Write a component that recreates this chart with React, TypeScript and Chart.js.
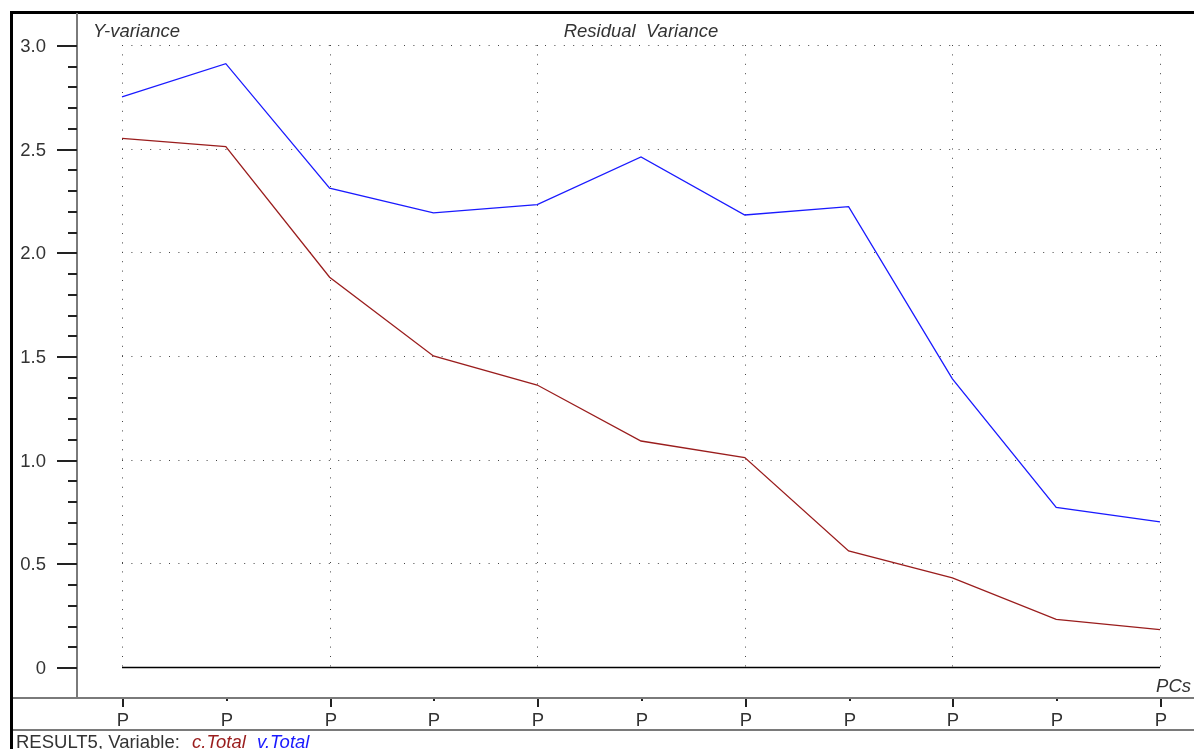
import React, { useEffect, useRef } from "react";
import { Chart, registerables } from "chart.js";

Chart.register(...registerables);

const categories = ["P", "P", "P", "P", "P", "P", "P", "P", "P", "P", "P"];
const vTotal = [2.75, 2.91, 2.31, 2.19, 2.23, 2.46, 2.18, 2.22, 1.39, 0.77, 0.7];
const cTotal = [2.55, 2.51, 1.88, 1.5, 1.36, 1.09, 1.01, 0.56, 0.43, 0.23, 0.18];
const yMajorTicks = [0, 0.5, 1.0, 1.5, 2.0, 2.5, 3.0];
const yMajorLabels = ["0", "0.5", "1.0", "1.5", "2.0", "2.5", "3.0"];
const yMinorTicks = [0.1, 0.2, 0.3, 0.4, 0.6, 0.7, 0.8, 0.9, 1.1, 1.2, 1.3, 1.4, 1.6, 1.7, 1.8, 1.9, 2.1, 2.2, 2.3, 2.4, 2.6, 2.7, 2.8, 2.9];

const FONT = "Liberation Sans, Arial, sans-serif";
const FS = "18.5px ";
const RED = "#9a1d1d";
const BLUE = "#1a1aff";

const decor = {
  id: "decor",
  beforeDatasetsDraw(chart: any) {
    const ctx = chart.ctx as CanvasRenderingContext2D;
    const xs = chart.scales.x;
    const ys = chart.scales.y;
    const left = xs.getPixelForValue(0);
    const right = xs.getPixelForValue(categories.length - 1);
    const top = ys.getPixelForValue(3.0);
    const zero = ys.getPixelForValue(0);
    ctx.save();
    ctx.fillStyle = "#ffffff";
    ctx.fillRect(0, 0, chart.width, chart.height);

    // dotted horizontal grid
    ctx.strokeStyle = "#444";
    ctx.lineWidth = 1;
    ctx.setLineDash([1, 8.4]);
    for (const v of yMajorTicks) {
      if (v === 0) continue;
      const y = Math.round(ys.getPixelForValue(v)) + 0.5;
      ctx.beginPath();
      ctx.moveTo(left, y);
      ctx.lineTo(right + 1, y);
      ctx.stroke();
    }
    // dotted vertical grid (every other category)
    for (let i = 0; i < categories.length; i += 2) {
      const x = Math.round(xs.getPixelForValue(i)) + 0.5;
      ctx.beginPath();
      ctx.moveTo(x, top);
      ctx.lineTo(x, zero);
      ctx.stroke();
    }
    ctx.setLineDash([]);

    // zero line
    ctx.strokeStyle = "#000";
    ctx.lineWidth = 1.5;
    ctx.beginPath();
    ctx.moveTo(left, Math.round(zero) + 0.5);
    ctx.lineTo(right, Math.round(zero) + 0.5);
    ctx.stroke();

    // frame
    ctx.fillStyle = "#000";
    ctx.fillRect(10, 11, chart.width - 10, 3);
    ctx.fillRect(10, 11, 3, chart.height - 11);

    // y axis line
    const axisX = 77;
    ctx.fillStyle = "#7a7a7a";
    ctx.fillRect(axisX - 1, 13, 2, 686);
    // x axis bands
    ctx.fillRect(13, 697, chart.width - 13, 2);
    ctx.fillRect(13, 729, chart.width - 13, 2);

    // y ticks
    ctx.fillStyle = "#222";
    for (const v of yMajorTicks) {
      const y = Math.round(ys.getPixelForValue(v));
      ctx.fillRect(57, y, 20, 2);
    }
    for (const v of yMinorTicks) {
      const y = Math.round(ys.getPixelForValue(v));
      ctx.fillRect(68, y, 9, 2);
    }
    ctx.font = FS + FONT;
    ctx.textAlign = "right";
    ctx.textBaseline = "alphabetic";
    ctx.fillStyle = "#333";
    yMajorTicks.forEach((v, i) => {
      const y = ys.getPixelForValue(v);
      ctx.fillText(yMajorLabels[i], 46, y + 7);
    });

    // x ticks and labels
    ctx.textAlign = "center";
    categories.forEach((c, i) => {
      const x = Math.round(xs.getPixelForValue(i));
      ctx.fillStyle = "#222";
      if (i % 2 === 0) ctx.fillRect(x, 699, 2, 8);
      else ctx.fillRect(x, 699, 2, 2);
      ctx.fillStyle = "#333";
      ctx.fillText(c, x + 1, 726);
    });

    // titles
    ctx.font = "italic " + FS + FONT;
    ctx.fillStyle = "#333";
    ctx.textAlign = "left";
    ctx.fillText("Y-variance", 93, 37);
    ctx.textAlign = "center";
    ctx.fillText("Residual  Variance", (left + right) / 2, 37);
    ctx.textAlign = "right";
    ctx.fillText("PCs", 1191, 692);

    // legend line
    ctx.textAlign = "left";
    ctx.font = FS + FONT;
    ctx.fillStyle = "#333";
    ctx.fillText("RESULT5, Variable:", 16, 748);
    ctx.font = "italic " + FS + FONT;
    ctx.fillStyle = RED;
    ctx.fillText("c.Total", 192, 748);
    ctx.fillStyle = BLUE;
    ctx.fillText("v.Total", 257, 748);
    ctx.restore();
  },
};

export default function App() {
  const ref = useRef<HTMLCanvasElement>(null);
  useEffect(() => {
    document.body.style.margin = "0";
    const chart = new Chart(ref.current!, {
      type: "line",
      data: {
        labels: categories,
        datasets: [
          {
            label: "c.Total",
            data: cTotal,
            borderColor: RED,
            borderWidth: 1.3,
            pointRadius: 0,
            tension: 0,
            clip: false as any,
          },
          {
            label: "v.Total",
            data: vTotal,
            borderColor: BLUE,
            borderWidth: 1.3,
            pointRadius: 0,
            tension: 0,
            clip: false as any,
          },
        ],
      },
      options: {
        animation: false,
        responsive: false,
        devicePixelRatio: 1,
        layout: { padding: { left: 122, right: 34, top: 45, bottom: 82 } },
        plugins: { legend: { display: false }, title: { display: false }, tooltip: { enabled: false } },
        scales: {
          x: { type: "category", display: false, offset: false },
          y: { type: "linear", display: false, min: 0, max: 3.0 },
        },
      },
      plugins: [decor],
    });
    return () => chart.destroy();
  }, []);
  return (
    <div style={{ position: "fixed", left: 0, top: 0, width: 1194, height: 749, background: "#fff" }}>
      <canvas ref={ref} width={1194} height={749} style={{ display: "block", width: 1194, height: 749 }} />
    </div>
  );
}
